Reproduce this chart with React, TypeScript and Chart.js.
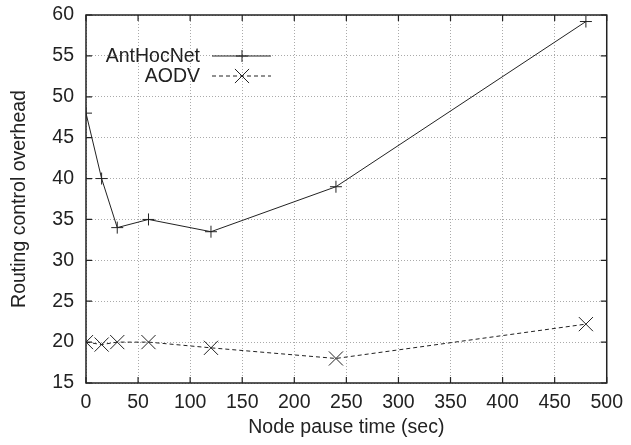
import React, { useEffect, useRef } from "react";
import { Chart, registerables } from "chart.js";

Chart.register(...registerables);

const pauseTimes = [0, 15, 30, 60, 120, 240, 480];
const antHocNet = [48, 40, 34, 35, 33.5, 39, 59.2];
const aodv = [20, 19.7, 20, 20, 19.3, 18, 22.2];
const seriesNames = ["AntHocNet", "AODV"];
const xTitle = "Node pause time (sec)";
const yTitle = "Routing control overhead";

const FONT = "'Liberation Sans', Arial, sans-serif";
const FS = 19.5;
const INK = "#222";

const framePlugin = {
  id: "gnuFrame",
  afterDatasetsDraw(chart: any) {
    const { ctx, chartArea: a, scales } = chart;
    ctx.save();
    ctx.strokeStyle = INK;
    ctx.lineWidth = 1.2;
    const tl = 6;
    ctx.beginPath();
    scales.x.ticks.forEach((t: any) => {
      const px = scales.x.getPixelForValue(t.value);
      ctx.moveTo(px, a.bottom);
      ctx.lineTo(px, a.bottom - tl);
      ctx.moveTo(px, a.top);
      ctx.lineTo(px, a.top + tl);
    });
    scales.y.ticks.forEach((t: any) => {
      const py = scales.y.getPixelForValue(t.value);
      ctx.moveTo(a.left, py);
      ctx.lineTo(a.left + tl, py);
      ctx.moveTo(a.right, py);
      ctx.lineTo(a.right - tl, py);
    });
    ctx.stroke();
    ctx.lineWidth = 1.5;
    ctx.strokeRect(a.left, a.top, a.right - a.left, a.bottom - a.top);

    // legend
    ctx.font = `${FS}px ${FONT}`;
    ctx.fillStyle = INK;
    ctx.textAlign = "right";
    ctx.textBaseline = "middle";
    const rows = [56, 76];
    chart.data.datasets.forEach((ds: any, i: number) => {
      const y = rows[i];
      ctx.fillText(ds.label, 200, y + 1);
      ctx.save();
      ctx.strokeStyle = INK;
      ctx.lineWidth = 1;
      ctx.setLineDash(ds.borderDash || []);
      ctx.beginPath();
      ctx.moveTo(212, y);
      ctx.lineTo(271, y);
      ctx.stroke();
      ctx.setLineDash([]);
      const r = ds.pointRadius;
      ctx.beginPath();
      if (ds.pointStyle === "cross") {
        ctx.moveTo(242 - r, y);
        ctx.lineTo(242 + r, y);
        ctx.moveTo(242, y - r);
        ctx.lineTo(242, y + r);
      } else {
        const d = r * 0.707;
        ctx.moveTo(242 - d, y - d);
        ctx.lineTo(242 + d, y + d);
        ctx.moveTo(242 - d, y + d);
        ctx.lineTo(242 + d, y - d);
      }
      ctx.stroke();
      ctx.restore();
    });
    ctx.restore();
  },
};

export default function App() {
  const ref = useRef<HTMLCanvasElement>(null);
  useEffect(() => {
    document.body.style.margin = "0";
    const chart = new Chart(ref.current as HTMLCanvasElement, {
      type: "line",
      data: {
        datasets: [
          {
            label: seriesNames[0],
            data: pauseTimes.map((x, i) => ({ x, y: antHocNet[i] })),
            borderColor: INK,
            borderWidth: 1,
            pointStyle: "cross",
            pointRadius: 6,
            pointBorderColor: INK,
            pointBorderWidth: 1,
            fill: false,
            tension: 0,
          },
          {
            label: seriesNames[1],
            data: pauseTimes.map((x, i) => ({ x, y: aodv[i] })),
            borderColor: INK,
            borderWidth: 1,
            borderDash: [4, 3],
            pointStyle: "crossRot",
            pointRadius: 10,
            pointBorderColor: INK,
            pointBorderWidth: 1,
            fill: false,
            tension: 0,
          },
        ],
      },
      options: {
        animation: false,
        responsive: false,
        layout: { padding: { top: 15, right: 21, left: 0, bottom: 0 } },
        plugins: { legend: { display: false }, tooltip: { enabled: false } },
        scales: {
          x: {
            type: "linear",
            min: 0,
            max: 500,
            afterFit: (s: any) => {
              s.height = 62;
            },
            ticks: { stepSize: 50, padding: 8, color: INK, font: { family: FONT, size: FS } },
            grid: { color: "#aaa", lineWidth: 1, drawTicks: false },
            border: { display: false, dash: [1, 2] },
            title: { display: true, text: xTitle, color: INK, font: { family: FONT, size: FS }, padding: { top: 0, bottom: 6 } },
          },
          y: {
            type: "linear",
            min: 15,
            max: 60,
            afterFit: (s: any) => {
              s.width = 86;
              s.paddingTop = 0;
              s.paddingBottom = 0;
            },
            ticks: { stepSize: 5, padding: 12, color: INK, font: { family: FONT, size: FS } },
            grid: { color: "#aaa", lineWidth: 1, drawTicks: false },
            border: { display: false, dash: [1, 2] },
            title: { display: true, text: yTitle, color: INK, font: { family: FONT, size: FS }, padding: { top: 8, bottom: 0 } },
          },
        },
      },
      plugins: [framePlugin],
    });
    return () => chart.destroy();
  }, []);
  return <canvas ref={ref} width={631} height={445} style={{ display: "block" }} />;
}
